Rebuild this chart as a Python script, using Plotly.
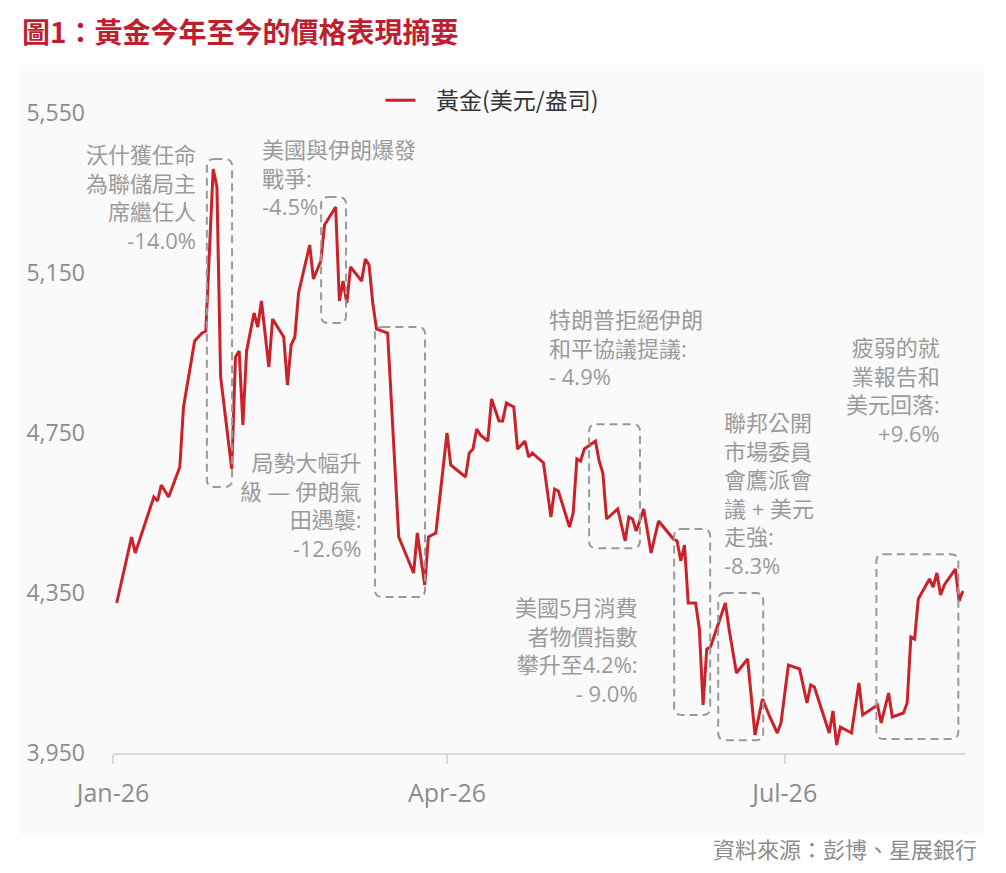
import pandas as pd
import plotly.graph_objects as go

# gold price, USD/oz
dates = [
    "2026-01-02", "2026-01-06", "2026-01-07", "2026-01-12", "2026-01-13", "2026-01-14",
    "2026-01-16", "2026-01-19", "2026-01-20", "2026-01-22", "2026-01-23", "2026-01-25",
    "2026-01-26", "2026-01-28", "2026-01-29", "2026-01-30", "2026-02-02", "2026-02-03",
    "2026-02-04", "2026-02-05", "2026-02-06", "2026-02-08", "2026-02-09", "2026-02-10",
    "2026-02-12", "2026-02-13", "2026-02-16", "2026-02-17", "2026-02-18", "2026-02-19",
    "2026-02-20", "2026-02-23", "2026-02-24", "2026-02-26", "2026-02-27", "2026-03-02",
    "2026-03-03", "2026-03-04", "2026-03-05", "2026-03-06", "2026-03-09", "2026-03-10",
    "2026-03-11", "2026-03-12", "2026-03-13", "2026-03-16", "2026-03-19", "2026-03-23",
    "2026-03-24", "2026-03-26", "2026-03-27", "2026-03-29", "2026-04-01", "2026-04-02",
    "2026-04-06", "2026-04-07", "2026-04-08", "2026-04-09", "2026-04-10", "2026-04-12",
    "2026-04-13", "2026-04-15", "2026-04-16", "2026-04-17", "2026-04-19", "2026-04-20",
    "2026-04-22", "2026-04-23", "2026-04-24", "2026-04-27", "2026-04-28", "2026-04-29",
    "2026-04-30", "2026-05-01", "2026-05-04", "2026-05-05", "2026-05-06", "2026-05-07",
    "2026-05-08", "2026-05-11", "2026-05-12", "2026-05-13", "2026-05-14", "2026-05-17",
    "2026-05-19", "2026-05-20", "2026-05-21", "2026-05-22", "2026-05-24", "2026-05-26",
    "2026-05-28", "2026-06-01", "2026-06-02", "2026-06-03", "2026-06-04", "2026-06-05",
    "2026-06-07", "2026-06-08", "2026-06-09", "2026-06-10", "2026-06-11", "2026-06-15",
    "2026-06-16", "2026-06-18", "2026-06-21", "2026-06-23", "2026-06-25", "2026-06-27",
    "2026-06-29", "2026-06-30", "2026-07-02", "2026-07-05", "2026-07-07", "2026-07-08",
    "2026-07-09", "2026-07-13", "2026-07-14", "2026-07-15", "2026-07-16", "2026-07-19",
    "2026-07-21", "2026-07-22", "2026-07-26", "2026-07-27", "2026-07-29", "2026-07-30",
    "2026-08-02", "2026-08-03", "2026-08-04", "2026-08-05", "2026-08-06", "2026-08-09",
    "2026-08-10", "2026-08-11", "2026-08-12", "2026-08-13", "2026-08-16", "2026-08-17",
    "2026-08-18",
]
gold = [
    4325, 4490, 4450, 4590, 4580, 4620,
    4590, 4665, 4815, 4930, 4980, 5000,
    5005, 5410, 5365, 4890, 4660, 4940,
    4955, 4770, 4955, 5050, 5015, 5080,
    4915, 5035, 4990, 4870, 4970, 4990,
    5100, 5220, 5135, 5180, 5270, 5315,
    5080, 5130, 5075, 5165, 5130, 5185,
    5170, 5075, 5010, 5000, 4490, 4400,
    4500, 4370, 4490, 4500, 4750, 4670,
    4640, 4700, 4710, 4760, 4745, 4730,
    4835, 4780, 4780, 4825, 4815, 4710,
    4730, 4690, 4700, 4675, 4600, 4540,
    4610, 4605, 4515, 4550, 4685, 4680,
    4710, 4730, 4680, 4650, 4535, 4560,
    4480, 4540, 4535, 4505, 4560, 4450,
    4530, 4485, 4480, 4430, 4470, 4325,
    4325, 4260, 4070, 4210, 4215, 4325,
    4260, 4150, 4185, 3995, 4085, 4040,
    4000, 4025, 4170, 4160, 4075, 4120,
    4115, 4000, 4055, 3970, 4015, 4000,
    4125, 4045, 4070, 4025, 4100, 4040,
    4050, 4075, 4240, 4235, 4335, 4385,
    4365, 4400, 4345, 4370, 4410, 4330,
    4355,
]

y_ticks = [3950, 4350, 4750, 5150, 5550]
x_ticks = ["2026-01-01", "2026-04-01", "2026-07-01"]
x_labels = ["Jan-26", "Apr-26", "Jul-26"]

# event windows (dashed boxes)
box_start = ["2026-01-26 07:00", "2026-02-26 02:00", "2026-03-12 14:00", "2026-05-09 07:00",
             "2026-06-01 05:00", "2026-06-13 02:00", "2026-07-25 17:00"]
box_end = ["2026-02-02 02:00", "2026-03-04 19:00", "2026-03-26 02:00", "2026-05-23 00:00",
           "2026-06-10 22:00", "2026-06-25 05:00", "2026-08-16 19:00"]
box_low = [4615, 5025, 4340, 4462, 4045, 3982, 3985]
box_high = [5435, 5340, 5015, 4772, 4510, 4350, 4447]

# event notes
note_text = [
    "沃什獲任命<br>為聯儲局主<br>席繼任人<br>-14.0%",
    "美國與伊朗爆發<br>戰爭:<br>-4.5%",
    "局勢大幅升<br>級 — 伊朗氣<br>田遇襲:<br>-12.6%",
    "特朗普拒絕伊朗<br>和平協議提議:<br>- 4.9%",
    "美國5月消費<br>者物價指數<br>攀升至4.2%:<br>- 9.0%",
    "聯邦公開<br>市場委員<br>會鷹派會<br>議 + 美元<br>走強:<br>-8.3%",
    "疲弱的就<br>業報告和<br>美元回落:<br>+9.6%",
]
note_x = ["2026-01-23 22:00", "2026-02-09 15:00", "2026-03-09 09:00", "2026-04-28 00:00",
          "2026-05-23 00:00", "2026-06-14 05:00", "2026-08-12 12:00"]
note_y = [5490, 5502, 4720, 5077, 4357, 4820, 5007]
note_side = ["right", "left", "right", "left", "right", "left", "right"]

RED = "#cc2129"
GREY = "#8c8c8c"
FONT = "Open Sans, Noto Sans CJK TC, sans-serif"


def ts(t):
    return t.strftime("%Y-%m-%d_%H:%M:%S")


def rounded_box(x0, x1, y0, y1, rx=pd.Timedelta(hours=48), ry=18):
    x0, x1 = pd.Timestamp(x0), pd.Timestamp(x1)
    pts = [
        ("M", [(x0 + rx, y1)]),
        ("L", [(x1 - rx, y1)]),
        ("Q", [(x1, y1), (x1, y1 - ry)]),
        ("L", [(x1, y0 + ry)]),
        ("Q", [(x1, y0), (x1 - rx, y0)]),
        ("L", [(x0 + rx, y0)]),
        ("Q", [(x0, y0), (x0, y0 + ry)]),
        ("L", [(x0, y1 - ry)]),
        ("Q", [(x0, y1), (x0 + rx, y1)]),
    ]
    return " ".join(c + " " + " ".join(f"{ts(x)},{y}" for x, y in p) for c, p in pts) + " Z"


fig = go.Figure()
fig.add_trace(
    go.Scatter(
        x=pd.to_datetime(dates),
        y=gold,
        mode="lines",
        name="\u00a0\u00a0\u00a0黃金(美元/盎司)",
        line=dict(color=RED, width=3),
    )
)

# faint grey panel behind the chart
fig.add_shape(
    type="rect", xref="paper", yref="paper",
    x0=-0.109, x1=1.023, y0=-0.128, y1=1.075,
    fillcolor="#fafafa", line=dict(width=0), layer="below",
)

for i in range(len(box_start)):
    fig.add_shape(
        type="path",
        path=rounded_box(box_start[i], box_end[i], box_low[i], box_high[i]),
        line=dict(color="#9a9a9a", width=2, dash="8px,5px"),
        layer="above",
    )

for i in range(len(note_text)):
    fig.add_annotation(
        x=note_x[i], y=note_y[i], xref="x", yref="y",
        text=note_text[i], showarrow=False,
        xanchor=note_side[i], yanchor="top", align=note_side[i],
        font=dict(family=FONT, size=22, color="#9b9b9b"),
    )

fig.add_annotation(
    text="資料來源：彭博、星展銀行", showarrow=False,
    xref="paper", yref="paper", x=1.015, y=-0.175,
    xanchor="right", yanchor="bottom", borderpad=0,
    font=dict(family=FONT, size=22, color="#8c8c8c"),
)

# page body has an 8px margin, so the figure is sized to fit inside it
fig.update_layout(
    width=990,
    height=857,
    margin=dict(l=105, r=33, t=105, b=112),
    paper_bgcolor="white",
    plot_bgcolor="rgba(0,0,0,0)",
    font=dict(family=FONT, color=GREY),
    title=dict(
        text="<b>圖1：黃金今年至今的價格表現摘要</b>",
        xref="container", yref="container", x=0.0141, y=0.971,
        xanchor="left", yanchor="middle",
        font=dict(family="Noto Sans CJK TC", size=28, color="#bf1e2e"),
    ),
    showlegend=True,
    legend=dict(
        orientation="h", x=0.314, y=1.02, xanchor="left", yanchor="middle",
        font=dict(family="Noto Sans CJK TC, Open Sans", size=23, color="#333333"),
        bgcolor="rgba(0,0,0,0)",
    ),
)

fig.update_xaxes(
    type="date",
    range=["2026-01-01", "2026-08-18 14:00"],
    tickvals=x_ticks,
    ticktext=x_labels,
    showgrid=False,
    zeroline=False,
    showline=True,
    linecolor="#d9d9d9",
    linewidth=2,
    ticks="outside",
    ticklen=9,
    tickwidth=2,
    tickcolor="#d9d9d9",
    ticklabelstandoff=8,
    tickfont=dict(family=FONT, size=25, color=GREY),
)
fig.update_yaxes(
    range=[3950, 5550],
    tickvals=y_ticks,
    tickformat=",",
    showgrid=False,
    zeroline=False,
    showline=False,
    ticklabelstandoff=27,
    tickfont=dict(family=FONT, size=23, color=GREY),
)

fig.write_html("out.html")
